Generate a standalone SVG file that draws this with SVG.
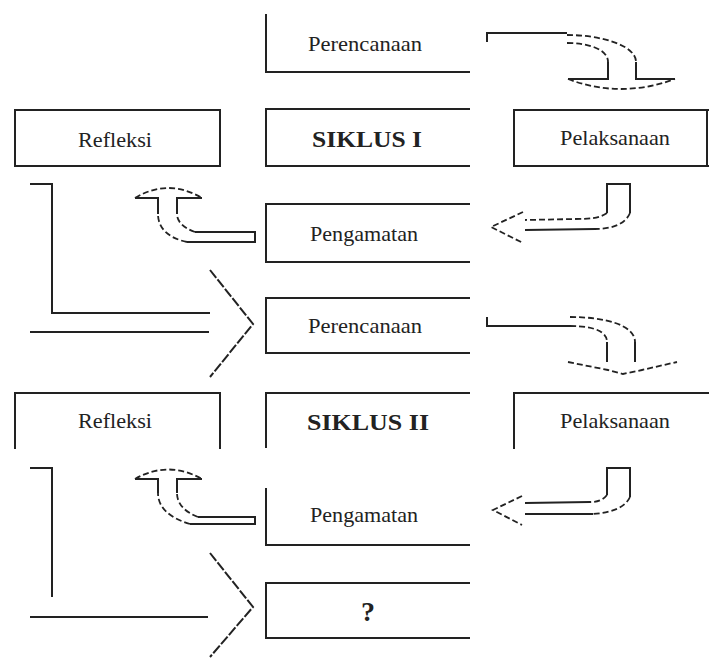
<svg xmlns="http://www.w3.org/2000/svg" width="709" height="658" viewBox="0 0 709 658">
<style>
.s{fill:none;stroke:#222;stroke-width:2}
.d{fill:none;stroke:#222;stroke-width:1.8;stroke-dasharray:6 3}
.c{fill:none;stroke:#222;stroke-width:2;stroke-dasharray:10 2}
.t{font-family:"Liberation Serif","Times New Roman",serif;font-size:21px;fill:#222;text-anchor:middle}
.b{font-family:"Liberation Serif","Times New Roman",serif;font-size:23px;font-weight:bold;fill:#222;text-anchor:middle}
</style>
<rect width="709" height="658" fill="#fff"/>
<g id="perencanaan1"><path class="s" d="M266,14 L266,72 L470,72"/><text class="t" x="365" y="51" textLength="114" lengthAdjust="spacingAndGlyphs">Perencanaan</text></g>
<g id="siklus1"><path class="s" d="M470,109 L266,109 L266,166 L470,166"/><text class="b" x="367" y="147" textLength="110" lengthAdjust="spacingAndGlyphs">SIKLUS I</text></g>
<g id="pengamatan1"><path class="s" d="M470,204 L266,204 L266,262 L470,262"/><text class="t" x="364" y="241" textLength="108" lengthAdjust="spacingAndGlyphs">Pengamatan</text></g>
<g id="perencanaan2"><path class="s" d="M470,298 L266,298 L266,353 L470,353"/><text class="t" x="365" y="333" textLength="114" lengthAdjust="spacingAndGlyphs">Perencanaan</text></g>
<g id="siklus2"><path class="s" d="M470,393 L266,393 L266,448"/><text class="b" x="368" y="430" textLength="122" lengthAdjust="spacingAndGlyphs">SIKLUS II</text></g>
<g id="pengamatan2"><path class="s" d="M266,488 L266,545 L470,545"/><text class="t" x="364" y="522" textLength="108" lengthAdjust="spacingAndGlyphs">Pengamatan</text></g>
<g id="tanya"><path class="s" d="M470,583 L266,583 L266,638 L470,638"/><text class="b" x="368" y="621" style="font-size:28px">?</text></g>
<g id="refleksi1"><rect class="s" x="15" y="110" width="205" height="56"/><text class="t" x="115" y="147" textLength="74" lengthAdjust="spacingAndGlyphs">Refleksi</text></g>
<g id="refleksi2"><path class="s" d="M15,449 L15,393 L220,393 L220,449"/><text class="t" x="115" y="428" textLength="74" lengthAdjust="spacingAndGlyphs">Refleksi</text></g>
<g id="pelaksanaan1"><path class="s" d="M709,110 L514,110 L514,166 L709,166 M707,110 L707,166"/><text class="t" x="615" y="145" textLength="110" lengthAdjust="spacingAndGlyphs">Pelaksanaan</text></g>
<g id="pelaksanaan2"><path class="s" d="M514,449 L514,393 L709,393"/><text class="t" x="615" y="428" textLength="110" lengthAdjust="spacingAndGlyphs">Pelaksanaan</text></g>
<g id="connectors">
<!-- Perencanaan I -> Pelaksanaan I -->
<polyline class="s" points="487,42 487,33 567,33"/>
<path class="d" d="M567,35 C600,35 636,45 636,62"/>
<path class="d" d="M567,43 C590,43 608,50 608,62"/>
<path class="s" d="M636,62 L636,79 L675,79 M608,62 L608,79 L568,79"/>
<path class="d" d="M568,79 Q620,99 675,79"/>
<!-- Pelaksanaan I -> Pengamatan I -->
<polyline class="s" points="607,213 607,184 630,184 630,213"/>
<path class="d" d="M607,213 C600,218 590,219 575,219 L525,220"/>
<path class="d" d="M630,213 C625,225 610,229 595,229"/>
<path class="s" d="M595,229 L525,230"/>
<polyline class="d" points="523,212 491,227 523,243"/>
<!-- Pengamatan I -> Refleksi I -->
<path class="s" d="M195,232 L255,232 L255,242 L187,242"/>
<path class="d" d="M187,242 C168,238 158,228 158,214"/>
<path class="d" d="M195,232 C184,228 177,222 177,214"/>
<path class="s" d="M158,214 L158,198 L135,198 M177,214 L177,198 L202,198"/>
<path class="d" d="M135,198 Q168,178 202,198"/>
<!-- Refleksi I loop -> Perencanaan II -->
<polyline class="s" points="30,184 52,184 52,313 210,313"/>
<line class="s" x1="30" y1="332" x2="209" y2="332"/>
<polyline class="c" points="210,270 253,324 210,377"/>
<!-- Perencanaan II -> Pelaksanaan II -->
<polyline class="s" points="487,317 487,326 570,326"/>
<path class="d" d="M570,317 C605,317 635,325 635,342"/>
<path class="d" d="M570,326 C595,326 607,332 607,342"/>
<path class="s" d="M635,342 L635,362 M607,342 L607,362"/>
<path class="d" d="M568,362 L608,370 L623,374 L642,370 L677,362"/>
<!-- Pelaksanaan II -> Pengamatan II -->
<polyline class="s" points="607,495 607,468 630,468 630,497"/>
<path class="d" d="M607,495 C603,500 598,502 590,502"/>
<path class="s" d="M590,502 L525,503"/>
<path class="d" d="M630,497 C625,508 610,513 593,514"/>
<path class="s" d="M593,514 L525,514"/>
<polyline class="d" points="522,496 493,510 522,525"/>
<!-- Pengamatan II -> Refleksi II -->
<path class="s" d="M198,517 L255,517 L255,524 L190,524"/>
<path class="d" d="M190,524 C170,518 158,508 158,493"/>
<path class="d" d="M198,517 C185,512 177,504 177,493"/>
<path class="s" d="M158,493 L158,479 L135,479 M177,493 L177,479 L202,479"/>
<path class="d" d="M135,479 Q168,460 202,479"/>
<!-- Refleksi II loop -> ? -->
<polyline class="s" points="30,468 52,468 52,597"/>
<line class="s" x1="30" y1="617" x2="208" y2="617"/>
<polyline class="c" points="210,553 253,607 210,657"/>
</g>
</svg>
